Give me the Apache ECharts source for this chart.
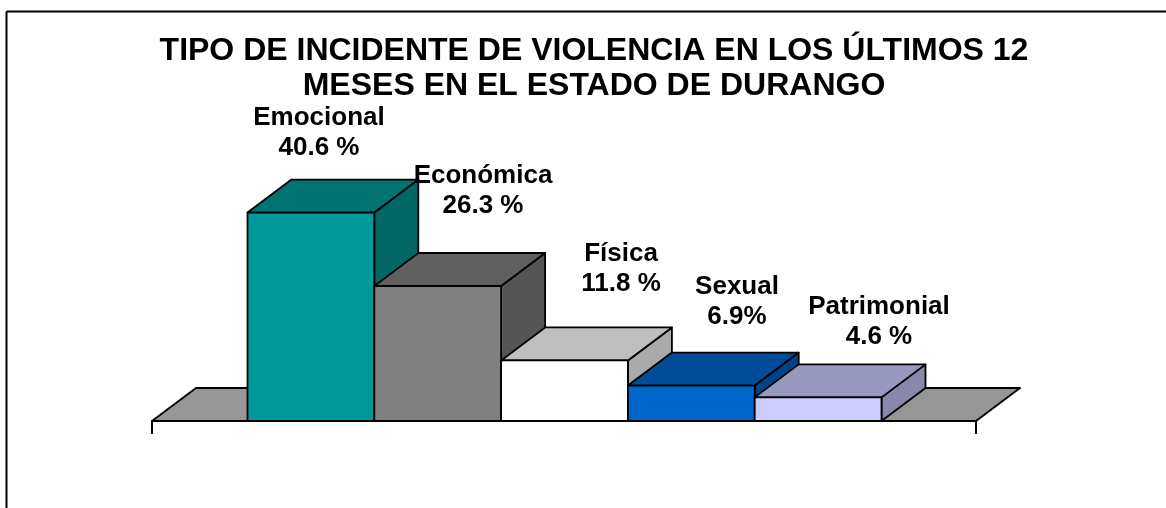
<!DOCTYPE html>
<html>
<head>
<meta charset="utf-8">
<script src="https://cdn.jsdelivr.net/npm/echarts@6/dist/echarts.min.js"></script>
<style>
  html, body { margin: 0; padding: 0; background: #fff; }
  #main { width: 1166px; height: 508px; }
</style>
</head>
<body>
<div id="main"></div>
<script>
var categories = ["Emocional", "Económica", "Física", "Sexual", "Patrimonial"];
var values = [40.6, 26.3, 11.8, 6.9, 4.6];
var valueTexts = ["40.6 %", "26.3 %", "11.8 %", "6.9%", "4.6 %"];

var frontColors = ["#009999", "#808080", "#ffffff", "#0066cc", "#ccccff"];
var topColors = ["#007373", "#606060", "#bfbfbf", "#004c99", "#9999bf"];
var sideColors = ["#006666", "#555555", "#aaaaaa", "#004488", "#8888aa"];

// la etiqueta no sigue una regla fija, va desplazada a mano desde la barra
var labelX = [319, 483, 621, 737, 879];
var labelY = [133, 191, 269, 302, 322];

var barWidth = 126.8;
var depthX = 44;
var depthY = -33;
var edge = { stroke: "#000", lineWidth: 1.8, lineJoin: "round" };

function face(points, color) {
  return {
    type: "polygon",
    shape: { points: points },
    style: { fill: color, stroke: edge.stroke, lineWidth: edge.lineWidth, lineJoin: edge.lineJoin },
  };
}

var myChart = echarts.init(document.getElementById("main"));

var option = {
  animation: false,
  backgroundColor: "#fff",
  title: {
    text: "TIPO DE INCIDENTE DE VIOLENCIA EN LOS ÚLTIMOS 12\nMESES EN EL ESTADO DE DURANGO",
    left: 589,
    top: 29,
    textAlign: "center",
    textStyle: {
      fontFamily: "Liberation Sans",
      fontWeight: "bold",
      fontSize: 32,
      lineHeight: 35,
      color: "#000",
    },
  },
  grid: { left: 152, top: 113, width: 824, height: 308 },
  xAxis: {
    type: "category",
    data: [""],
    axisLine: { lineStyle: { color: "#000", width: 2 } },
    axisTick: { show: true, length: 13, lineStyle: { color: "#000", width: 2 } },
    axisLabel: { show: false },
    z: 5,
  },
  yAxis: { type: "value", min: 0, max: 60, show: false },
  graphic: [
    { type: "line", shape: { x1: 6.5, y1: 11.5, x2: 6.5, y2: 508 }, style: { stroke: "#000", lineWidth: 2 } },
    { type: "line", shape: { x1: 6.5, y1: 11.5, x2: 1166, y2: 11.5 }, style: { stroke: "#000", lineWidth: 2 } },
  ],
  series: [
    {
      // piso
      type: "custom",
      coordinateSystem: "cartesian2d",
      silent: true,
      z: 1,
      data: [[0, 0]],
      renderItem: function (params, api) {
        var base = api.coord([0, 0]);
        var half = api.size([1, 0])[0] / 2;
        var l = base[0] - half;
        var r = base[0] + half;
        var y = base[1];
        return face(
          [
            [l, y],
            [l + depthX, y + depthY],
            [r + depthX, y + depthY],
            [r, y],
          ],
          "#969696"
        );
      },
    },
    {
      // barras
      type: "custom",
      coordinateSystem: "cartesian2d",
      silent: true,
      z: 2,
      data: values.map(function (v) {
        return [0, v];
      }),
      renderItem: function (params, api) {
        var i = params.dataIndex;
        var p = api.coord([0, api.value(1)]);
        var base = api.coord([0, 0]);
        var x0 = p[0] + (i - 2.5) * barWidth + 0.5;
        var x1 = x0 + barWidth;
        var top = p[1];
        var bottom = base[1];
        return {
          type: "group",
          children: [
            face(
              [
                [x1, bottom],
                [x1 + depthX, bottom + depthY],
                [x1 + depthX, top + depthY],
                [x1, top],
              ],
              sideColors[i]
            ),
            face(
              [
                [x0, top],
                [x0 + depthX, top + depthY],
                [x1 + depthX, top + depthY],
                [x1, top],
              ],
              topColors[i]
            ),
            face(
              [
                [x0, bottom],
                [x0, top],
                [x1, top],
                [x1, bottom],
              ],
              frontColors[i]
            ),
          ],
        };
      },
    },
    {
      // etiquetas
      type: "custom",
      coordinateSystem: "cartesian2d",
      silent: true,
      z: 10,
      data: values.map(function (v) {
        return [0, v];
      }),
      renderItem: function (params) {
        var i = params.dataIndex;
        return {
          type: "text",
          style: {
            x: labelX[i],
            y: labelY[i],
            text: categories[i] + "\n" + valueTexts[i],
            fill: "#000",
            align: "center",
            verticalAlign: "middle",
            font: "bold 26px 'Liberation Sans'",
            lineHeight: 30,
          },
        };
      },
    },
  ],
};

myChart.setOption(option);
</script>
</body>
</html>
